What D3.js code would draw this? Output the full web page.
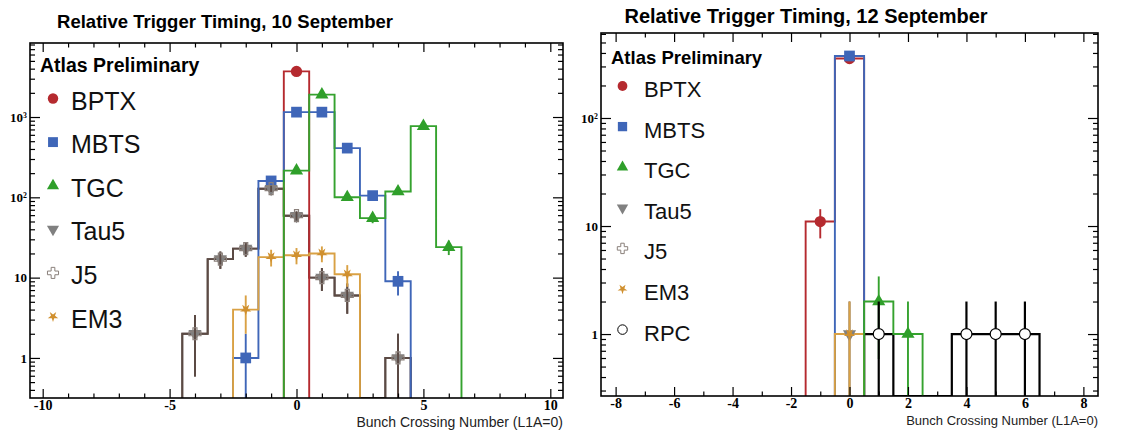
<!DOCTYPE html>
<html>
<head>
<meta charset="utf-8">
<script src="https://cdn.jsdelivr.net/npm/d3@7"></script>
<style>
  html, body { margin: 0; padding: 0; background: #fff; }
  svg { display: block; }
</style>
</head>
<body>
<svg id="chart" width="1145" height="430"></svg>
<script>
// ---- 10 September: [bunch crossing, events] per trigger ----
const sep10BPTX = [[0, 3700]];
const sep10MBTS = [[-2, 1], [-1, 160], [0, 1150], [1, 1150], [2, 410], [3, 105], [4, 9]];
const sep10TGC  = [[0, 215], [1, 1900], [2, 100], [3, 55], [4, 118], [5, 770], [6, 24]];
const sep10Tau5 = [[-4, 2], [-3, 17], [-2, 23], [-1, 128], [0, 59], [1, 10], [2, 6], [4, 1]];
const sep10J5   = [[-4, 2], [-3, 17], [-2, 23], [-1, 128], [0, 59], [1, 10], [2, 6], [4, 1]];
const sep10EM3  = [[-2, 4], [-1, 18], [0, 19], [1, 20], [2, 11]];

// ---- 12 September ----
const sep12BPTX = [[-1, 11], [0, 355]];
const sep12MBTS = [[0, 375]];
const sep12TGC  = [[1, 2], [2, 1]];
const sep12Tau5 = [[0, 1]];
const sep12J5   = [];
const sep12EM3  = [[0, 1]];
const sep12RPC  = [[1, 1], [4, 1], [5, 1], [6, 1]];

// ---- axis ticks and labels ----
const sep10XTicks = [-10, -5, 0, 5, 10];
const sep12XTicks = [-8, -6, -4, -2, 0, 2, 4, 6, 8];
const sep10YTicks = [1, 10, 100, 1000];
const sep10YLabels = [["1", ""], ["10", ""], ["10", "2"], ["10", "3"]];
const sep12YTicks = [1, 10, 100];
const sep12YLabels = [["1", ""], ["10", ""], ["10", "2"]];

const sep10Legend = ["BPTX", "MBTS", "TGC", "Tau5", "J5", "EM3"];
const sep12Legend = ["BPTX", "MBTS", "TGC", "Tau5", "J5", "EM3", "RPC"];

const sep10Title = "Relative Trigger Timing, 10 September";
const sep12Title = "Relative Trigger Timing, 12 September";
const xAxisTitle = "Bunch Crossing Number (L1A=0)";
const watermark = "Atlas Preliminary";

// ---- trigger styles ----
const style = {
  BPTX: { line: "#b52a2f", fill: "#b52a2f", stroke: "none", shape: d3.symbolCircle, size: 100, rot: 0 },
  MBTS: { line: "#3f66b8", fill: "#3f66b8", stroke: "none", shape: d3.symbolSquare, size: 115, rot: 0 },
  TGC:  { line: "#35a22e", fill: "#2f9f2a", stroke: "none", shape: d3.symbolTriangle, size: 75, rot: 0 },
  Tau5: { line: "#5b4a44", fill: "#808080", stroke: "none", shape: d3.symbolTriangle, size: 75, rot: 180 },
  J5:   { line: "#5b4a44", fill: "none", stroke: "#8a807b", shape: d3.symbolCross, size: 80, rot: 0 },
  EM3:  { line: "#d9a144", fill: "#d0902f", stroke: "none", shape: d3.symbolStar, size: 40, rot: 180 },
  RPC:  { line: "#000000", fill: "#ffffff", stroke: "#000000", shape: d3.symbolCircle, size: 95, rot: 0 }
};
const histOrder = ["RPC", "Tau5", "J5", "BPTX", "MBTS", "EM3", "TGC"];
const markOrder = ["BPTX", "MBTS", "TGC", "Tau5", "J5", "EM3", "RPC"];

const svg = d3.select("#chart");
const sans = "'Liberation Sans', Arial, sans-serif";
const serif = "'Liberation Serif', 'Times New Roman', serif";

function drawPanel(p) {
  const g = svg.append("g");
  const x = d3.scaleLinear().domain(p.xDomain).range([p.left, p.right]);
  const y = d3.scaleLog().domain(p.yDomain).range([p.bottom, p.top]);
  const yc = v => (v > 0 ? Math.max(p.top, Math.min(p.bottom, y(Math.max(v, p.yDomain[0])))) : p.bottom);

  const clipId = "clip" + p.id;
  svg.append("clipPath").attr("id", clipId)
    .append("rect").attr("x", p.left).attr("y", p.top)
    .attr("width", p.right - p.left).attr("height", p.bottom - p.top);

  // titles
  svg.append("text").attr("x", p.titleX).attr("y", p.titleY)
    .attr("text-anchor", "middle")
    .attr("font-family", sans).attr("font-weight", "bold").attr("font-size", p.titleSize)
    .text(p.title);

  svg.append("text").attr("x", p.right).attr("y", p.xTitleY)
    .attr("text-anchor", "end")
    .attr("font-family", sans).attr("font-size", p.xTitleSize).attr("fill", "#222")
    .text(xAxisTitle);

  // histogram outlines
  const hg = g.append("g").attr("clip-path", `url(#${clipId})`);
  histOrder.forEach(name => {
    const data = p.series[name];
    if (!data || !data.length) return;
    const m = new Map(data);
    const lo = d3.min(data, d => d[0]), hi = d3.max(data, d => d[0]);
    const pts = [[x(lo - 0.5), p.bottom]];
    for (let b = lo; b <= hi; b++) {
      const h = yc(m.get(b) || 0);
      pts.push([x(b - 0.5), h], [x(b + 0.5), h]);
    }
    pts.push([x(hi + 0.5), p.bottom]);
    hg.append("path").attr("d", d3.line()(pts))
      .attr("fill", "none").attr("stroke", style[name].line)
      .attr("stroke-width", name === "RPC" ? 2.2 : 1.9)
      .attr("stroke-linejoin", "miter");
  });

  // Poisson error bars and markers
  const mg = g.append("g").attr("clip-path", `url(#${clipId})`);
  markOrder.forEach(name => {
    const data = p.series[name];
    if (!data || !data.length) return;
    const s = style[name];
    data.forEach(([b, n]) => {
      const e = Math.sqrt(n);
      mg.append("line")
        .attr("x1", x(b)).attr("x2", x(b))
        .attr("y1", yc(n + e)).attr("y2", yc(n - e))
        .attr("stroke", s.line).attr("stroke-width", name === "RPC" ? 2.2 : 1.9);
    });
    data.forEach(([b, n]) => {
      mg.append("path")
        .attr("d", d3.symbol().type(s.shape).size(s.size)())
        .attr("transform", `translate(${x(b)},${y(n)}) rotate(${s.rot})`)
        .attr("fill", s.fill)
        .attr("stroke", s.stroke)
        .attr("stroke-width", s.stroke === "none" ? 0 : 1.2);
    });
  });

  // frame
  g.append("rect").attr("x", p.left).attr("y", p.top)
    .attr("width", p.right - p.left).attr("height", p.bottom - p.top)
    .attr("fill", "none").attr("stroke", "#000").attr("stroke-width", 1.6);

  // axes with inward ticks on all four sides
  const xMinor = d3.range(Math.ceil(p.xDomain[0]), Math.floor(p.xDomain[1]) + 1)
    .filter(v => !p.xTicks.includes(v));
  const [y0, y1] = p.yDomain;
  const yMinor = [];
  for (let d = Math.floor(Math.log10(y0)); d <= Math.ceil(Math.log10(y1)); d++) {
    for (let k = 2; k <= 9; k++) {
      const v = k * Math.pow(10, d);
      if (v >= y0 && v <= y1) yMinor.push(v);
    }
  }
  const clean = sel => { sel.select(".domain").remove(); sel.selectAll("line").attr("stroke-width", 1.2); };

  const bx = g.append("g").attr("transform", `translate(0,${p.bottom})`)
    .call(d3.axisBottom(x).tickValues(p.xTicks).tickSize(-9).tickPadding(p.xPad)
      .tickFormat(d => String(d)));
  bx.call(clean)
    .attr("font-family", serif).attr("font-size", p.xTickSize).attr("font-weight", "bold");
  bx.selectAll("text").attr("fill", "#000");
  g.append("g").attr("transform", `translate(0,${p.bottom})`)
    .call(d3.axisBottom(x).tickValues(xMinor).tickSize(-4.5).tickFormat(""))
    .call(clean);
  g.append("g").attr("transform", `translate(0,${p.top})`)
    .call(d3.axisTop(x).tickValues(p.xTicks).tickSize(-9).tickFormat(""))
    .call(clean);
  g.append("g").attr("transform", `translate(0,${p.top})`)
    .call(d3.axisTop(x).tickValues(xMinor).tickSize(-4.5).tickFormat(""))
    .call(clean);

  const ly = g.append("g").attr("transform", `translate(${p.left},0)`)
    .call(d3.axisLeft(y).tickValues(p.yTicks).tickSize(-10).tickPadding(p.yPad).tickFormat(""))
    .call(clean)
    .attr("font-family", serif).attr("font-size", p.yTickSize).attr("font-weight", "bold");
  ly.selectAll(".tick").each(function (d, i) {
    const t = d3.select(this).select("text").attr("fill", "#000");
    const lab = p.yLabels[i];
    t.text(null);
    t.append("tspan").text(lab[0]);
    if (lab[1]) {
      t.append("tspan").attr("dy", "-0.5em")
        .attr("font-size", p.yTickSize * 0.6).text(lab[1]);
    }
  });
  g.append("g").attr("transform", `translate(${p.left},0)`)
    .call(d3.axisLeft(y).tickValues(yMinor).tickSize(-5).tickFormat(""))
    .call(clean);
  g.append("g").attr("transform", `translate(${p.right},0)`)
    .call(d3.axisRight(y).tickValues(p.yTicks).tickSize(-10).tickFormat(""))
    .call(clean);
  g.append("g").attr("transform", `translate(${p.right},0)`)
    .call(d3.axisRight(y).tickValues(yMinor).tickSize(-5).tickFormat(""))
    .call(clean);

  // legend
  const lg = g.append("g");
  lg.append("text").attr("x", p.leg.atlasX).attr("y", p.leg.atlasY)
    .attr("font-family", sans).attr("font-weight", "bold").attr("font-size", p.leg.atlasSize)
    .text(watermark);
  p.legend.forEach((name, i) => {
    const s = style[name];
    const cy = p.leg.y0 + i * p.leg.step;
    lg.append("path")
      .attr("d", d3.symbol().type(s.shape).size(s.size * p.leg.markScale)())
      .attr("transform", `translate(${p.leg.markX},${cy}) rotate(${s.rot})`)
      .attr("fill", s.fill === "none" ? "#fff" : s.fill)
      .attr("stroke", s.stroke).attr("stroke-width", s.stroke === "none" ? 0 : 1);
    lg.append("text").attr("x", p.leg.textX).attr("y", cy + p.leg.textDy)
      .attr("font-family", sans).attr("font-size", p.leg.textSize).attr("fill", "#111")
      .text(name);
  });
}

drawPanel({
  id: "A", left: 30, right: 563, top: 43, bottom: 398,
  xDomain: [-10.5, 10.5], yDomain: [0.317, 8350],
  xTicks: sep10XTicks, yTicks: sep10YTicks, yLabels: sep10YLabels,
  xPad: 2, yPad: 3, xTickSize: 14, yTickSize: 13,
  title: sep10Title, titleX: 225, titleY: 28, titleSize: 18.5,
  xTitleY: 427, xTitleSize: 14,
  series: { BPTX: sep10BPTX, MBTS: sep10MBTS, TGC: sep10TGC, Tau5: sep10Tau5, J5: sep10J5, EM3: sep10EM3 },
  legend: sep10Legend,
  leg: { atlasX: 40, atlasY: 72, atlasSize: 19.5, markX: 53, textX: 71, y0: 98.5, step: 43.6,
         textDy: 11, textSize: 25, markScale: 0.85 }
});

drawPanel({
  id: "B", left: 601, right: 1098, top: 33, bottom: 396,
  xDomain: [-8.5, 8.5], yDomain: [0.267, 612],
  xTicks: sep12XTicks, yTicks: sep12YTicks, yLabels: sep12YLabels,
  xPad: 2, yPad: 3, xTickSize: 14, yTickSize: 13,
  title: sep12Title, titleX: 806, titleY: 23, titleSize: 20,
  xTitleY: 425, xTitleSize: 13,
  series: { BPTX: sep12BPTX, MBTS: sep12MBTS, TGC: sep12TGC, Tau5: sep12Tau5, J5: sep12J5, EM3: sep12EM3, RPC: sep12RPC },
  legend: sep12Legend,
  leg: { atlasX: 611, atlasY: 64, atlasSize: 18.5, markX: 622.5, textX: 644, y0: 86, step: 40.6,
         textDy: 11, textSize: 22, markScale: 0.75 }
});
</script>
</body>
</html>
